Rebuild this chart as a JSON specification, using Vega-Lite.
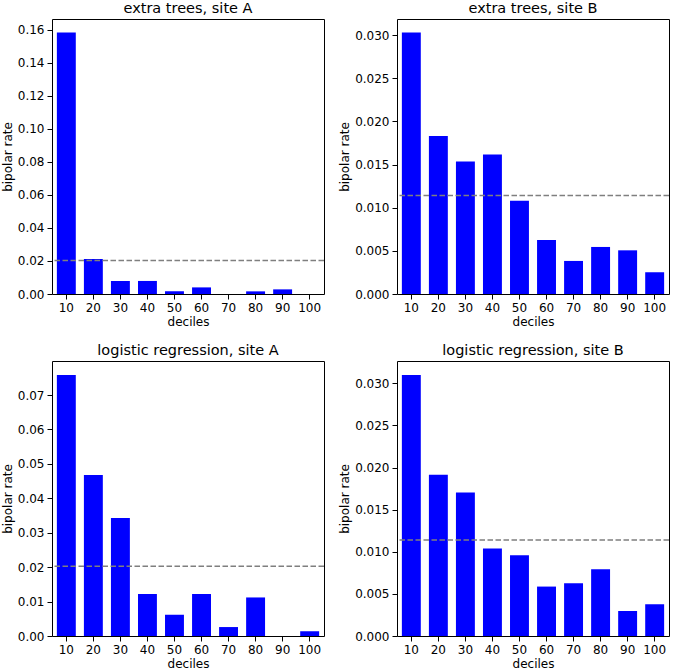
{
  "$schema": "https://vega.github.io/schema/vega-lite/v6.json",
  "padding": {"left": 0, "top": 0, "right": 0, "bottom": 0},
  "background": "white",
  "config": {
    "font": "DejaVu Sans",
    "view": {"stroke": "black", "strokeWidth": 1},
    "axis": {
      "grid": false,
      "domain": false,
      "tickColor": "black",
      "tickSize": 5,
      "labelColor": "black",
      "labelFontSize": 12,
      "labelFont": "DejaVu Sans",
      "labelOverlap": false,
      "titleFont": "DejaVu Sans",
      "titleFontSize": 12,
      "titleFontWeight": "normal",
      "titleColor": "black",
      "labelPadding": 3
    },
    "axisY": {"titlePadding": 3},
    "axisX": {"labelAngle": 0, "titlePadding": 3},
    "title": {"font": "DejaVu Sans", "fontSize": 14.5, "fontWeight": "normal", "color": "black", "offset": 3}
  },
  "datasets": {
    "bars": [
      {"model": "extra trees", "site": "A", "decile": 10, "rate": 0.1584},
      {"model": "extra trees", "site": "A", "decile": 20, "rate": 0.0212},
      {"model": "extra trees", "site": "A", "decile": 30, "rate": 0.0079},
      {"model": "extra trees", "site": "A", "decile": 40, "rate": 0.0079},
      {"model": "extra trees", "site": "A", "decile": 50, "rate": 0.0016},
      {"model": "extra trees", "site": "A", "decile": 60, "rate": 0.0040},
      {"model": "extra trees", "site": "A", "decile": 70, "rate": 0.0},
      {"model": "extra trees", "site": "A", "decile": 80, "rate": 0.0016},
      {"model": "extra trees", "site": "A", "decile": 90, "rate": 0.0028},
      {"model": "extra trees", "site": "A", "decile": 100, "rate": 0.0},
      {"model": "extra trees", "site": "B", "decile": 10, "rate": 0.0303},
      {"model": "extra trees", "site": "B", "decile": 20, "rate": 0.0183},
      {"model": "extra trees", "site": "B", "decile": 30, "rate": 0.01535},
      {"model": "extra trees", "site": "B", "decile": 40, "rate": 0.01616},
      {"model": "extra trees", "site": "B", "decile": 50, "rate": 0.01079},
      {"model": "extra trees", "site": "B", "decile": 60, "rate": 0.00626},
      {"model": "extra trees", "site": "B", "decile": 70, "rate": 0.00383},
      {"model": "extra trees", "site": "B", "decile": 80, "rate": 0.00545},
      {"model": "extra trees", "site": "B", "decile": 90, "rate": 0.00506},
      {"model": "extra trees", "site": "B", "decile": 100, "rate": 0.00251},
      {"model": "logistic regression", "site": "A", "decile": 10, "rate": 0.0758},
      {"model": "logistic regression", "site": "A", "decile": 20, "rate": 0.0468},
      {"model": "logistic regression", "site": "A", "decile": 30, "rate": 0.0343},
      {"model": "logistic regression", "site": "A", "decile": 40, "rate": 0.0122},
      {"model": "logistic regression", "site": "A", "decile": 50, "rate": 0.0062},
      {"model": "logistic regression", "site": "A", "decile": 60, "rate": 0.0122},
      {"model": "logistic regression", "site": "A", "decile": 70, "rate": 0.0026},
      {"model": "logistic regression", "site": "A", "decile": 80, "rate": 0.0112},
      {"model": "logistic regression", "site": "A", "decile": 90, "rate": 0.0},
      {"model": "logistic regression", "site": "A", "decile": 100, "rate": 0.00136},
      {"model": "logistic regression", "site": "B", "decile": 10, "rate": 0.0310},
      {"model": "logistic regression", "site": "B", "decile": 20, "rate": 0.01914},
      {"model": "logistic regression", "site": "B", "decile": 30, "rate": 0.01704},
      {"model": "logistic regression", "site": "B", "decile": 40, "rate": 0.01038},
      {"model": "logistic regression", "site": "B", "decile": 50, "rate": 0.00959},
      {"model": "logistic regression", "site": "B", "decile": 60, "rate": 0.00587},
      {"model": "logistic regression", "site": "B", "decile": 70, "rate": 0.00626},
      {"model": "logistic regression", "site": "B", "decile": 80, "rate": 0.00793},
      {"model": "logistic regression", "site": "B", "decile": 90, "rate": 0.00297},
      {"model": "logistic regression", "site": "B", "decile": 100, "rate": 0.00376}
    ],
    "means": [
      {"model": "extra trees", "site": "A", "mean": 0.0203},
      {"model": "extra trees", "site": "B", "mean": 0.0114},
      {"model": "logistic regression", "site": "A", "mean": 0.0203},
      {"model": "logistic regression", "site": "B", "mean": 0.0114}
    ]
  },
  "bounds": "flush",
  "columns": 2,
  "spacing": {"row": 67, "column": 73},
  "concat": [
    {
      "title": "extra trees, site A",
      "width": 272, "height": 275,
      "layer": [
        {
          "data": {"name": "bars"},
          "transform": [{"filter": "datum.model === 'extra trees' && datum.site === 'A'"}],
          "mark": {"type": "bar", "color": "#0000ff"},
          "encoding": {
            "x": {"field": "decile", "type": "ordinal", "title": "deciles", "scale": {"paddingInner": 0.3, "paddingOuter": 0.18}},
            "y": {"field": "rate", "type": "quantitative", "title": "bipolar rate", "scale": {"domain": [0, 0.1665], "nice": false}, "axis": {"values": [0, 0.02, 0.04, 0.06, 0.08, 0.1, 0.12, 0.14, 0.16], "tickCount": 20, "format": ".2f"}}
          }
        },
        {
          "data": {"name": "means"},
          "transform": [{"filter": "datum.model === 'extra trees' && datum.site === 'A'"}],
          "mark": {"type": "rule", "color": "#7f7f7f", "strokeWidth": 1.5, "strokeDash": [5.5, 2.5]},
          "encoding": {"y": {"field": "mean", "type": "quantitative"}}
        }
      ]
    },
    {
      "title": "extra trees, site B",
      "width": 272, "height": 275,
      "layer": [
        {
          "data": {"name": "bars"},
          "transform": [{"filter": "datum.model === 'extra trees' && datum.site === 'B'"}],
          "mark": {"type": "bar", "color": "#0000ff"},
          "encoding": {
            "x": {"field": "decile", "type": "ordinal", "title": "deciles", "scale": {"paddingInner": 0.3, "paddingOuter": 0.18}},
            "y": {"field": "rate", "type": "quantitative", "title": "bipolar rate", "scale": {"domain": [0, 0.03186], "nice": false}, "axis": {"values": [0, 0.005, 0.01, 0.015, 0.02, 0.025, 0.03], "tickCount": 20, "format": ".3f"}}
          }
        },
        {
          "data": {"name": "means"},
          "transform": [{"filter": "datum.model === 'extra trees' && datum.site === 'B'"}],
          "mark": {"type": "rule", "color": "#7f7f7f", "strokeWidth": 1.5, "strokeDash": [5.5, 2.5]},
          "encoding": {"y": {"field": "mean", "type": "quantitative"}}
        }
      ]
    },
    {
      "title": "logistic regression, site A",
      "width": 272, "height": 275,
      "layer": [
        {
          "data": {"name": "bars"},
          "transform": [{"filter": "datum.model === 'logistic regression' && datum.site === 'A'"}],
          "mark": {"type": "bar", "color": "#0000ff"},
          "encoding": {
            "x": {"field": "decile", "type": "ordinal", "title": "deciles", "scale": {"paddingInner": 0.3, "paddingOuter": 0.18}},
            "y": {"field": "rate", "type": "quantitative", "title": "bipolar rate", "scale": {"domain": [0, 0.0799], "nice": false}, "axis": {"values": [0, 0.01, 0.02, 0.03, 0.04, 0.05, 0.06, 0.07], "tickCount": 20, "format": ".2f"}}
          }
        },
        {
          "data": {"name": "means"},
          "transform": [{"filter": "datum.model === 'logistic regression' && datum.site === 'A'"}],
          "mark": {"type": "rule", "color": "#7f7f7f", "strokeWidth": 1.5, "strokeDash": [5.5, 2.5]},
          "encoding": {"y": {"field": "mean", "type": "quantitative"}}
        }
      ]
    },
    {
      "title": "logistic regression, site B",
      "width": 272, "height": 275,
      "layer": [
        {
          "data": {"name": "bars"},
          "transform": [{"filter": "datum.model === 'logistic regression' && datum.site === 'B'"}],
          "mark": {"type": "bar", "color": "#0000ff"},
          "encoding": {
            "x": {"field": "decile", "type": "ordinal", "title": "deciles", "scale": {"paddingInner": 0.3, "paddingOuter": 0.18}},
            "y": {"field": "rate", "type": "quantitative", "title": "bipolar rate", "scale": {"domain": [0, 0.03266], "nice": false}, "axis": {"values": [0, 0.005, 0.01, 0.015, 0.02, 0.025, 0.03], "tickCount": 20, "format": ".3f"}}
          }
        },
        {
          "data": {"name": "means"},
          "transform": [{"filter": "datum.model === 'logistic regression' && datum.site === 'B'"}],
          "mark": {"type": "rule", "color": "#7f7f7f", "strokeWidth": 1.5, "strokeDash": [5.5, 2.5]},
          "encoding": {"y": {"field": "mean", "type": "quantitative"}}
        }
      ]
    }
  ]
}
